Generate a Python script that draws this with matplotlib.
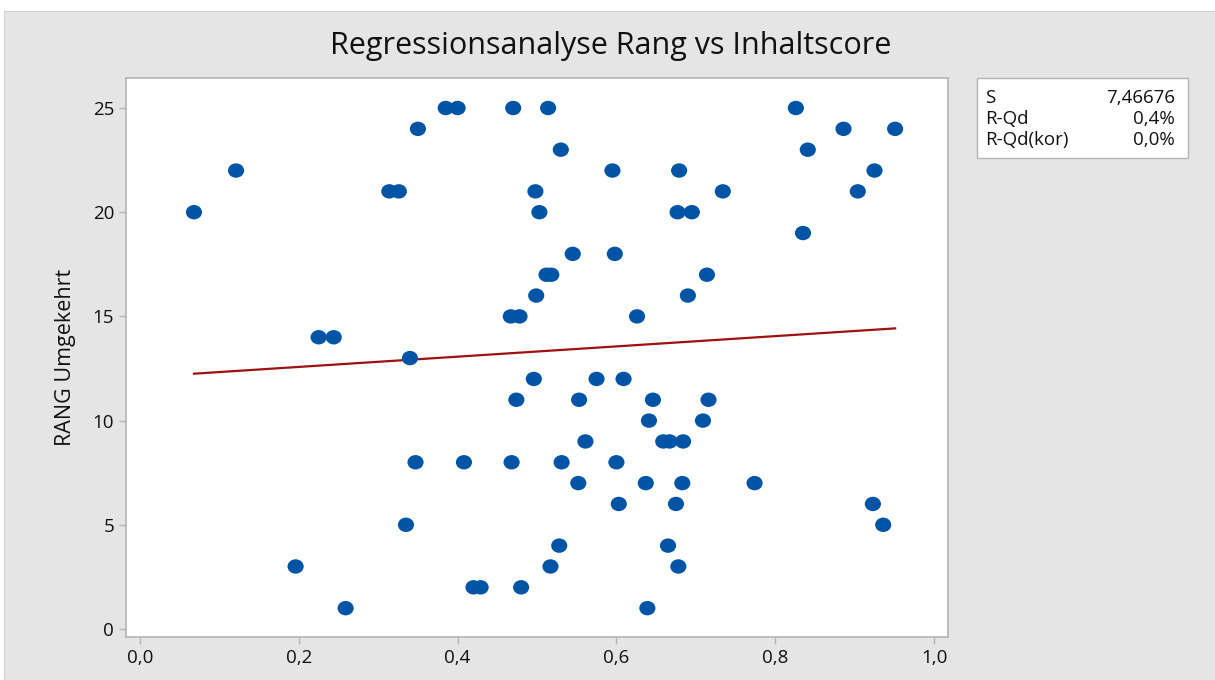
import numpy as np
import matplotlib.pyplot as plt
from matplotlib.patches import Rectangle
from matplotlib.path import Path

# Inhaltscore (x) per RANG Umgekehrt (y)
rang = [1, 1,
        2, 2, 2,
        3, 3, 3,
        4, 4,
        5, 5,
        6, 6, 6,
        7, 7, 7, 7,
        8, 8, 8, 8, 8,
        9, 9, 9, 9,
        10, 10,
        11, 11, 11, 11,
        12, 12, 12,
        13,
        14, 14,
        15, 15, 15,
        16, 16,
        17, 17, 17,
        18, 18,
        19,
        20, 20, 20, 20,
        21, 21, 21, 21, 21,
        22, 22, 22, 22,
        23, 23,
        24, 24, 24,
        25, 25, 25, 25, 25]
score = [0.259, 0.639,
         0.420, 0.429, 0.480,
         0.196, 0.517, 0.678,
         0.528, 0.665,
         0.335, 0.936,
         0.603, 0.675, 0.923,
         0.552, 0.637, 0.683, 0.774,
         0.347, 0.408, 0.468, 0.531, 0.600,
         0.561, 0.659, 0.667, 0.684,
         0.641, 0.709,
         0.474, 0.553, 0.646, 0.716,
         0.496, 0.575, 0.609,
         0.340,
         0.225, 0.244,
         0.467, 0.478, 0.626,
         0.499, 0.690,
         0.512, 0.518, 0.714,
         0.545, 0.598,
         0.835,
         0.068, 0.503, 0.677, 0.695,
         0.314, 0.326, 0.498, 0.734, 0.904,
         0.121, 0.595, 0.679, 0.925,
         0.530, 0.841,
         0.350, 0.886, 0.951,
         0.385, 0.400, 0.470, 0.514, 0.826]

stat_names = ['S', 'R-Qd', 'R-Qd(kor)']
stat_values = ['7,46676', '0,4%', '0,0%']

x_ticks = [0.0, 0.2, 0.4, 0.6, 0.8, 1.0]
y_ticks = [0, 5, 10, 15, 20, 25]

plt.rcParams['font.family'] = ['Open Sans', 'DejaVu Sans']

BLUE = '#0054a6'
RED = '#a01010'
PANEL = '#e5e5e5'
FRAME = '#b4b4b4'
TXT = '#111111'

fig = plt.figure(figsize=(12.15, 6.8), dpi=100, facecolor='white')
# grey panel like the Minitab graph window
fig.patches.append(Rectangle((4 / 1215, 0), 1, (680 - 11) / 680, transform=fig.transFigure,
                             facecolor=PANEL, edgecolor='#d0d0d0', lw=0.8, zorder=-10))

ax = fig.add_axes([126 / 1215, (680 - 637) / 680, 822 / 1215, 559 / 680])
ax.set_facecolor('white')

# slightly wide dots, as Minitab draws them
circ = Path.unit_circle()
dot = Path(circ.vertices * [1.12, 1.0], circ.codes)

x = np.array(score)
y = np.array(rang)
ax.scatter(x, y, s=135, marker=dot, color=BLUE, edgecolors='none', zorder=3)

# fitted line over the data range
b1, b0 = np.polyfit(x, y, 1)
xf = np.array([x.min(), x.max()])
ax.plot(xf, b0 + b1 * xf, color=RED, lw=1.6, zorder=2)

ax.set_xlim(-0.0176, 1.0176)
ax.set_ylim(-0.384, 26.44)
ax.set_xticks(x_ticks)
ax.set_xticklabels([f'{t:.1f}'.replace('.', ',') for t in x_ticks])
ax.set_yticks(y_ticks)
ax.tick_params(axis='both', labelsize=13.5, length=5, width=1, color=FRAME, labelcolor=TXT)
for sp in ax.spines.values():
    sp.set_color(FRAME)
    sp.set_linewidth(1.2)

ax.set_ylabel('RANG Umgekehrt', fontsize=15.5, color=TXT, labelpad=12)
fig.text(611 / 1215, 1 - 46 / 680, 'Regressionsanalyse Rang vs Inhaltscore',
         ha='center', va='center', fontsize=22, color=TXT)

# statistics box
fig.patches.append(Rectangle((977 / 1215, 1 - 158 / 680), 211 / 1215, 80 / 680,
                             transform=fig.transFigure, facecolor='white',
                             edgecolor=FRAME, lw=1.0, zorder=-5))
for i, (nm, val) in enumerate(zip(stat_names, stat_values)):
    yy = 1 - (98 + 21 * i) / 680
    fig.text(985 / 1215, yy, nm, ha='left', va='center', fontsize=13.5, color=TXT)
    fig.text(1175 / 1215, yy, val, ha='right', va='center', fontsize=13.5, color=TXT)

fig.savefig('out.png', dpi=100, facecolor=fig.get_facecolor())
